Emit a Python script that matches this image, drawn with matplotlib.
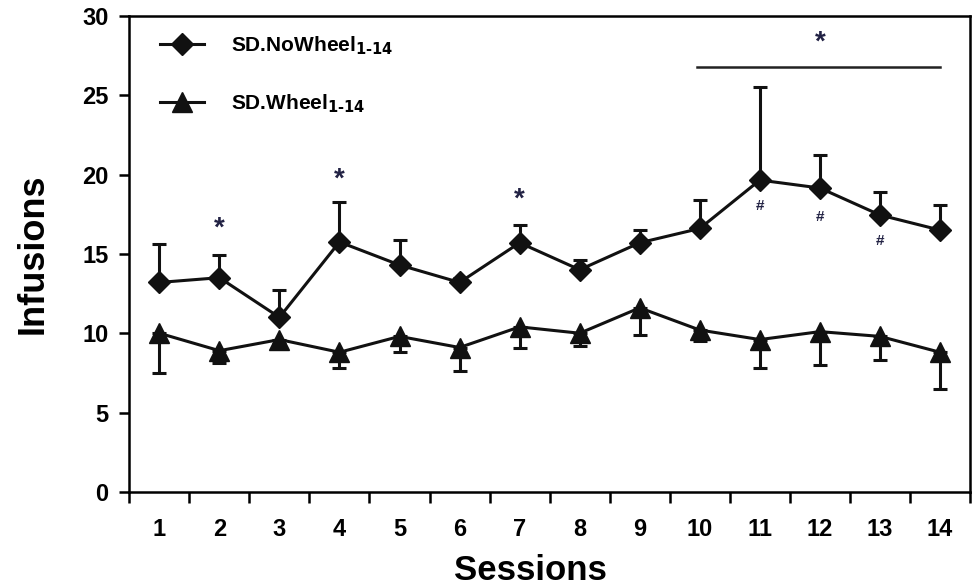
import numpy as np
import matplotlib.pyplot as plt
from matplotlib.lines import Line2D

plt.rcParams['font.family'] = ['Liberation Sans', 'DejaVu Sans']
plt.rcParams['font.weight'] = 'bold'
plt.rcParams['mathtext.default'] = 'bf'

# infusions per session
sessions = np.arange(1, 15)
no_wheel = [13.2, 13.5, 11.0, 15.75, 14.3, 13.2, 15.7, 14.0, 15.7, 16.6, 19.65, 19.15, 17.45, 16.5]
no_wheel_sem = [2.4, 1.4, 1.7, 2.55, 1.6, 0.3, 1.1, 0.6, 0.8, 1.8, 5.85, 2.05, 1.45, 1.6]
wheel = [10.0, 8.9, 9.6, 8.8, 9.8, 9.1, 10.4, 10.0, 11.6, 10.2, 9.6, 10.1, 9.8, 8.8]
wheel_sem = [2.5, 0.8, 0.3, 1.0, 1.0, 1.5, 1.3, 0.8, 1.7, 0.7, 1.8, 2.1, 1.5, 2.3]

# significance marks
star_x = [2, 4, 7]
star_y = [16.6, 19.7, 18.4]
hash_x = [11, 12, 13]
hash_y = [18.0, 17.3, 15.8]
bar_span = [9.95, 14.0]
bar_y = 26.8

ink = '#111111'
mark = '#222244'

fig = plt.figure(figsize=(9.72, 5.87), dpi=100)
ax = fig.add_axes([0.133, 0.162, 0.865, 0.811])

ax.errorbar(sessions, no_wheel, yerr=[np.zeros(14), no_wheel_sem], color=ink,
            marker='D', ms=11, lw=2.2, elinewidth=2.2, capsize=5, capthick=2.2, zorder=3)
ax.errorbar(sessions, wheel, yerr=[wheel_sem, np.zeros(14)], color=ink,
            marker='^', ms=14, lw=2.2, elinewidth=2.2, capsize=5, capthick=2.2, zorder=3)

for x, y in zip(star_x, star_y):
    ax.text(x, y, '*', ha='center', va='center', fontsize=20, color=mark)
for x, y in zip(hash_x, hash_y):
    ax.text(x, y, '#', ha='center', va='center', fontsize=11, color=mark)
ax.plot(bar_span, [bar_y, bar_y], color='#222222', lw=1.8)
ax.text(12.0, 28.3, '*', ha='center', va='center', fontsize=20, color=mark)

ax.set_xlim(0.5, 14.5)
ax.set_ylim(0, 30)
ax.set_xticks(np.arange(0.5, 15, 1))
ax.set_xticklabels([])
ax.set_xticks(sessions, minor=True)
ax.set_xticklabels([str(s) for s in sessions], minor=True, fontsize=17)
ax.tick_params(axis='x', which='major', direction='out', length=8, width=1.8)
ax.tick_params(axis='x', which='minor', length=0, pad=19)
ax.set_yticks(np.arange(0, 31, 5))
ax.tick_params(axis='y', direction='out', length=7, width=1.8, labelsize=17, pad=8)
for s in ax.spines.values():
    s.set_linewidth(1.8)

ax.set_xlabel('Sessions', fontsize=25, fontweight='bold')
ax.xaxis.set_label_coords(0.477, -0.13)
ax.set_ylabel('Infusions', fontsize=26, fontweight='bold')
ax.yaxis.set_label_coords(-0.094, 0.5)

handles = [
    Line2D([], [], color=ink, lw=2.2, marker='D', ms=11),
    Line2D([], [], color=ink, lw=2.2, marker='^', ms=14),
]
labels = ['SD.NoWheel$_{1\\text{-}14}$', 'SD.Wheel$_{1\\text{-}14}$']
ax.legend(handles, labels, loc='upper left', frameon=False, fontsize=15,
          handlelength=2.1, handletextpad=1.3, labelspacing=1.7, borderpad=0,
          borderaxespad=0, bbox_to_anchor=(0.037, 0.962))

fig.savefig('out.png', dpi=100)
